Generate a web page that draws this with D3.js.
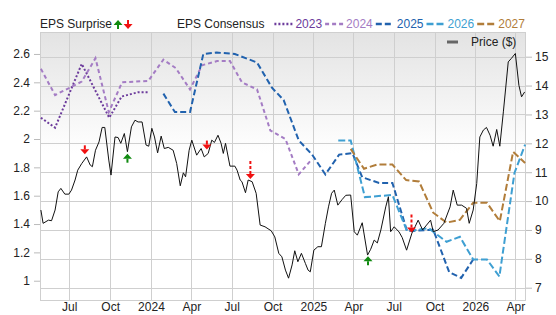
<!DOCTYPE html>
<html>
<head>
<meta charset="utf-8">
<script src="https://cdn.jsdelivr.net/npm/d3@7"></script>
<style>
  html, body { margin: 0; padding: 0; background: #fff; }
  svg { display: block; font-family: "Liberation Sans", Arial, Helvetica, sans-serif; }
</style>
</head>
<body>
<eps-chart></eps-chart>
<script>
// --- DATA ---
const consensusYears = ["2023", "2024", "2025", "2026", "2027"];

const eps2023 = [["2023-04-28",2.15],["2023-05-30",2.08],["2023-07-29",2.53],["2023-09-29",2.15],["2023-10-27",2.30],["2023-12-03",2.33],["2023-12-26",2.33]];

const eps2024 = [["2023-04-28",2.495],["2023-05-30",2.31],["2023-07-29",2.405],["2023-08-29",2.57],["2023-09-28",2.19],["2023-10-28",2.40],["2023-12-26",2.41],["2024-01-29",2.56],["2024-02-26",2.50],["2024-03-29",2.35],["2024-04-25",2.52],["2024-05-29",2.55],["2024-06-27",2.55],["2024-07-24",2.40],["2024-08-27",2.35],["2024-09-26",2.06],["2024-10-30",2.00],["2024-11-29",1.75],["2024-12-29",1.86]];

const eps2025 = [["2024-01-29",2.32],["2024-02-24",2.19],["2024-03-29",2.19],["2024-04-28",2.60],["2024-05-28",2.61],["2024-07-08",2.60],["2024-08-27",2.54],["2024-09-30",2.36],["2024-10-26",2.275],["2024-11-29",1.99],["2024-12-29",1.89],["2025-01-28",1.75],["2025-02-28",1.89],["2025-03-30",1.90],["2025-04-21",1.73],["2025-05-29",1.69],["2025-06-28",1.69],["2025-07-31",1.35],["2025-09-28",1.36],["2025-11-03",1.06],["2025-11-30",1.02],["2025-12-27",1.15]];

const eps2026 = [["2025-02-26",1.99],["2025-03-26",1.99],["2025-04-27",1.59],["2025-06-28",1.605],["2025-07-31",1.35],["2025-09-18",1.37],["2025-10-28",1.275],["2025-11-27",1.31],["2025-12-27",1.15],["2026-01-27",1.15],["2026-02-24",1.03],["2026-03-30",1.76],["2026-04-23",1.96]];

const eps2027 = [["2025-03-26",1.93],["2025-04-25",1.79],["2025-05-25",1.82],["2025-06-28",1.82],["2025-07-29",1.71],["2025-08-27",1.70],["2025-09-28",1.48],["2025-10-28",1.41],["2025-11-27",1.43],["2025-12-27",1.55],["2026-01-27",1.55],["2026-02-25",1.42],["2026-03-27",1.91],["2026-04-23",1.83]];

const price = [
  ["2023-04-28",9.69],["2023-05-03",9.23],["2023-05-15",9.34],["2023-05-22",9.32],["2023-05-30",9.69],["2023-06-06",10.32],["2023-06-12",10.44],["2023-06-21",10.24],["2023-06-30",10.24],["2023-07-06",10.38],["2023-07-14",10.73],["2023-07-20",11.07],["2023-07-29",11.30],["2023-08-09",11.53],["2023-08-17",11.25],["2023-08-22",11.19],["2023-08-29",11.76],["2023-09-06",12.05],["2023-09-13",12.55],["2023-09-19",12.55],["2023-09-28",11.42],["2023-10-03",10.90],["2023-10-12",12.22],["2023-10-19",12.20],["2023-10-25",12.00],["2023-11-02",12.34],["2023-11-09",11.71],["2023-11-18",12.57],["2023-11-26",12.80],["2023-12-03",12.74],["2023-12-12",12.74],["2023-12-21",11.94],["2023-12-27",11.90],
  ["2024-01-03",12.52],["2024-01-09",12.22],["2024-01-16",11.67],["2024-01-24",12.25],["2024-01-31",11.82],["2024-02-09",11.86],["2024-02-20",11.76],["2024-02-28",11.30],["2024-03-07",10.53],["2024-03-14",10.98],["2024-03-19",10.84],["2024-03-27",11.76],["2024-04-02",12.11],["2024-04-13",11.59],["2024-04-23",11.82],["2024-04-30",11.53],["2024-05-09",11.65],["2024-05-17",12.11],["2024-05-23",12.03],["2024-05-31",12.28],["2024-06-07",12.00],["2024-06-12",11.65],["2024-06-17",12.00],["2024-06-27",11.21],["2024-07-08",11.21],["2024-07-13",11.07],["2024-07-20",10.73],["2024-07-24",10.67],["2024-08-01",10.29],["2024-08-07",10.73],["2024-08-16",10.67],["2024-08-25",10.27],["2024-09-03",9.17],["2024-09-14",9.11],["2024-09-28",8.97],["2024-10-06",8.76],["2024-10-15",8.19],["2024-10-22",8.07],["2024-10-30",7.61],["2024-11-06",7.33],["2024-11-14",7.79],["2024-11-20",8.28],["2024-11-27",7.90],["2024-12-05",8.19],["2024-12-14",7.84],["2024-12-20",7.61],["2024-12-25",7.55],
  ["2025-01-02",8.30],["2025-01-11",8.42],["2025-01-19",8.42],["2025-01-28",9.23],["2025-02-04",9.80],["2025-02-11",10.27],["2025-02-17",10.38],["2025-02-25",9.86],["2025-03-07",10.06],["2025-03-15",10.20],["2025-03-26",10.21],["2025-04-03",8.94],["2025-04-10",8.82],["2025-04-21",9.25],["2025-05-03",8.13],["2025-05-10",8.33],["2025-05-18",8.65],["2025-05-25",8.55],["2025-06-02",9.00],["2025-06-13",9.80],["2025-06-19",10.15],["2025-06-24",8.94],["2025-07-02",9.11],["2025-07-13",8.93],["2025-07-20",8.74],["2025-07-30",8.30],["2025-08-11",8.89],["2025-08-18",9.11],["2025-08-25",9.34],["2025-09-04",9.00],["2025-09-13",9.17],["2025-09-22",9.34],["2025-09-28",8.94],["2025-10-09",9.00],["2025-10-22",9.23],["2025-11-05",9.80],["2025-11-12",10.38],["2025-11-21",9.86],["2025-12-01",9.86],["2025-12-12",9.75],["2025-12-18",9.23],["2025-12-27",9.69],
  ["2026-01-04",10.61],["2026-01-11",12.22],["2026-01-19",12.46],["2026-01-26",12.55],["2026-02-03",12.28],["2026-02-10",11.90],["2026-02-18",12.48],["2026-02-25",11.90],["2026-03-05",13.09],["2026-03-16",14.82],["2026-03-23",14.94],["2026-04-01",15.11],["2026-04-09",14.01],["2026-04-15",13.61],["2026-04-22",13.78]
];

// earnings surprises: date, kind (beat / miss / bigMiss)
const surprises = [["2023-08-05","miss"],["2023-11-09","beat"],["2024-05-06","miss"],["2024-08-12","bigMiss"],["2025-05-04","beat"],["2025-08-10","bigMiss"]];

const epsTicks = [1, 1.2, 1.4, 1.6, 1.8, 2, 2.2, 2.4, 2.6];
const priceTicks = [7, 8, 9, 10, 11, 12, 13, 14, 15];

class EpsChart extends HTMLElement {
    connectedCallback() {
        this.render();
    }

    render() {
        const W = 556, H = 315;
        const left = 40, right = 526, top = 32, bottom = 301;
        const parse = d3.timeParse("%Y-%m-%d");
        const seriesByYear = { "2023": eps2023, "2024": eps2024, "2025": eps2025, "2026": eps2026, "2027": eps2027 };
        const styles = {
            "2023": { color: "#6c3b9c", dash: "2,2" },
            "2024": { color: "#a47cc4", dash: "4,3" },
            "2025": { color: "#2162ae", dash: "6,3" },
            "2026": { color: "#3e9fd2", dash: "7,3" },
            "2027": { color: "#b17d3a", dash: "7,3" }
        };
        const ink = "#222";
        const gridColor = "#cfcfcf";

        const svg = d3.select(this).append("svg").attr("width", W).attr("height", H);

        const x = d3.scaleTime().domain([parse("2023-04-26"), parse("2026-04-25")]).range([left, right]);
        const yEps = d3.scaleLinear().domain([0.857, 2.755]).range([bottom, top]);
        const yPx = d3.scaleLinear().domain([6.54, 15.855]).range([bottom, top]);

        // background gradient
        const grad = svg.append("defs").append("linearGradient")
            .attr("id", "bg").attr("x1", 0).attr("y1", 0).attr("x2", 0).attr("y2", 1);
        grad.append("stop").attr("offset", "0%").attr("stop-color", "#e3e3e3");
        grad.append("stop").attr("offset", "45%").attr("stop-color", "#ffffff");
        svg.append("rect").attr("x", left).attr("y", top)
            .attr("width", right - left).attr("height", bottom - top).attr("fill", "url(#bg)");

        // grid
        const monthTicks = x.ticks(d3.timeMonth.every(3));
        const grid = svg.append("g").attr("stroke", gridColor).attr("stroke-width", 1);
        grid.selectAll("line.v").data(monthTicks).enter().append("line")
            .attr("x1", d => Math.round(x(d)) + 0.5).attr("x2", d => Math.round(x(d)) + 0.5)
            .attr("y1", top).attr("y2", bottom);
        grid.selectAll("line.h").data(priceTicks).enter().append("line")
            .attr("x1", left).attr("x2", right)
            .attr("y1", d => Math.round(yPx(d)) + 0.5).attr("y2", d => Math.round(yPx(d)) + 0.5);
        svg.append("rect").attr("x", left + 0.5).attr("y", top + 0.5)
            .attr("width", right - left - 1).attr("height", bottom - top - 1)
            .attr("fill", "none").attr("stroke", gridColor);

        // axes
        const monthFmt = d => d.getMonth() === 0 ? d3.timeFormat("%Y")(d) : d3.timeFormat("%b")(d);
        const styleAxis = g => {
            g.select(".domain").remove();
            g.selectAll(".tick line").attr("stroke", "#bbb");
            g.selectAll("text").attr("fill", ink).style("font-size", "12px");
        };
        svg.append("g").attr("transform", `translate(0,${bottom})`)
            .call(d3.axisBottom(x).tickValues(monthTicks).tickFormat(monthFmt).tickSize(0).tickPadding(1))
            .call(styleAxis);
        svg.append("g").attr("transform", `translate(${left},0)`)
            .call(d3.axisLeft(yEps).tickValues(epsTicks).tickFormat(d => String(+d.toFixed(1))).tickSize(6).tickPadding(4))
            .call(styleAxis);
        svg.append("g").attr("transform", `translate(${right},0)`)
            .call(d3.axisRight(yPx).tickValues(priceTicks).tickSize(6).tickPadding(3))
            .call(styleAxis);

        // consensus lines
        const epsLine = d3.line().x(d => x(parse(d[0]))).y(d => yEps(d[1]));
        consensusYears.forEach(yr => {
            svg.append("path").datum(seriesByYear[yr])
                .attr("d", epsLine)
                .attr("fill", "none")
                .attr("stroke", styles[yr].color)
                .attr("stroke-width", 2)
                .attr("stroke-dasharray", styles[yr].dash);
        });

        // price
        const priceLine = d3.line().x(d => x(parse(d[0]))).y(d => yPx(d[1]));
        svg.append("path").datum(price)
            .attr("d", priceLine).attr("fill", "none")
            .attr("stroke", "#111").attr("stroke-width", 1).attr("stroke-linejoin", "round");

        // surprise arrows sit on the price line
        const bis = d3.bisector(d => parse(d[0])).left;
        const priceAt = date => {
            const i = Math.max(1, Math.min(price.length - 1, bis(price, date)));
            const a = price[i - 1], b = price[i];
            const ta = parse(a[0]), tb = parse(b[0]);
            const t = (date - ta) / (tb - ta);
            return a[1] + (b[1] - a[1]) * t;
        };
        surprises.forEach(([ds, kind]) => {
            const date = parse(ds);
            const cx = x(date);
            const py = yPx(priceAt(date));
            if (kind === "beat") {
                this._arrow(svg, cx, py + 2, -1, "#108a10", false);
            } else {
                this._arrow(svg, cx, py - (kind === "bigMiss" ? 2 : 5), 1, "#f01010", kind === "bigMiss");
            }
        });

        // legend row
        const legend = svg.append("g").style("font-size", "12px");
        const lbl = legend.append("text").attr("x", 40).attr("y", 28).attr("fill", ink).text("EPS Surprise");
        const lx = 40 + lbl.node().getComputedTextLength();
        this._arrow(legend, lx + 6, 20, -1, "#108a10", false);
        this._arrow(legend, lx + 16, 29, 1, "#f01010", false);

        const cons = legend.append("text").attr("x", 177).attr("y", 28).attr("fill", ink).text("EPS Consensus");
        let cx = 177 + cons.node().getComputedTextLength() + 10;
        consensusYears.forEach(yr => {
            legend.append("line").attr("x1", cx).attr("x2", cx + 18).attr("y1", 24).attr("y2", 24)
                .attr("stroke", styles[yr].color).attr("stroke-width", 2.5)
                .attr("stroke-dasharray", styles[yr].dash);
            const t = legend.append("text").attr("x", cx + 21).attr("y", 28)
                .attr("fill", styles[yr].color).text(yr);
            cx += 21 + t.node().getComputedTextLength() + 3;
        });

        // price legend inside plot
        svg.append("line").attr("x1", 447).attr("x2", 458).attr("y1", 42).attr("y2", 42)
            .attr("stroke", "#666").attr("stroke-width", 3);
        svg.append("text").attr("x", 471).attr("y", 46).attr("fill", ink)
            .style("font-size", "12px").text("Price ($)");
    }

    // dir -1 = up (tip on top), 1 = down (tip at bottom)
    _arrow(g, cx, tip, dir, color, dashed) {
        const base = tip - dir * 5;
        g.append("path")
            .attr("d", `M${cx},${tip}L${cx - 4.5},${base}L${cx + 4.5},${base}Z`)
            .attr("fill", color);
        const len = dashed ? 15 : 4;
        g.append("line")
            .attr("x1", cx).attr("x2", cx)
            .attr("y1", base).attr("y2", base - dir * len)
            .attr("stroke", color).attr("stroke-width", 2)
            .attr("stroke-dasharray", dashed ? "3,2" : null);
    }
}

customElements.define('eps-chart', EpsChart);
</script>
</body>
</html>
